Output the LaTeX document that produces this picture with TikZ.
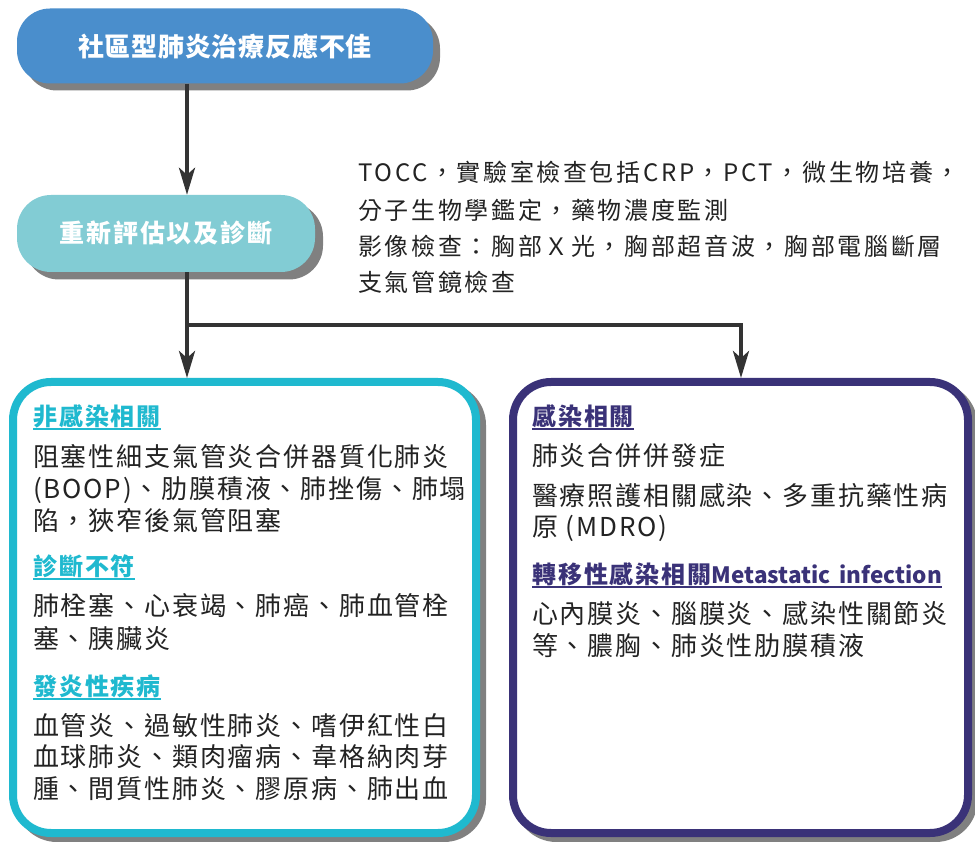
\documentclass[tikz,border=0pt]{standalone}
\usepackage{fontspec}
\setmainfont{Noto Sans CJK TC}
\newfontfamily\bodyf{Noto Sans CJK TC}[LetterSpace=7]
\newfontfamily\headf{Noto Sans CJK TC}[LetterSpace=8]
\newfontfamily\notef{Noto Sans CJK TC}[LetterSpace=11]
\newfontfamily\titlef{Noto Sans CJK TC}[LetterSpace=3]
\newfontfamily\latf{Noto Sans CJK TC}
\usetikzlibrary{arrows.meta,calc}
\definecolor{bluebox}{RGB}{74,142,204}
\definecolor{tealbox}{RGB}{130,204,212}
\definecolor{cyanb}{RGB}{31,185,207}
\definecolor{purpb}{RGB}{58,50,120}
\definecolor{shadowc}{RGB}{128,128,128}
\definecolor{arrc}{RGB}{51,51,51}
\definecolor{txtc}{RGB}{35,35,35}
\begin{document}
\begin{tikzpicture}[x=1pt,y=-1pt,
  shadowbox/.style={rectangle, fill=shadowc, inner sep=0pt, outer sep=0pt},
  titlebox/.style={rectangle, inner sep=0pt, text=white},
  bigbox/.style={rectangle, draw, line width=8pt, fill=white, inner sep=0pt, rounded corners=38pt},
  arr/.style={draw=arrc, line width=4pt, -{Stealth[length=27pt,width=16pt,inset=7pt]}},
  conn/.style={draw=arrc, line width=4pt},
  bodytext/.style={anchor=base west, inner sep=0pt, text=txtc, font=\bodyf\fontsize{26}{30}\selectfont},
  headtext/.style={anchor=base west, inner sep=0pt, font=\headf\bfseries\fontsize{24}{28}\selectfont},
  notetext/.style={anchor=base west, inner sep=0pt, text=txtc, font=\notef\fontsize{24}{28}\selectfont},
  uline/.style={line width=2pt}
]
\useasboundingbox (0,0) rectangle (975,842);
\fill[white] (0,0) rectangle (975,842);

% title boxes
\node[shadowbox, minimum width=416pt, minimum height=75pt, rounded corners=33pt] (s1) at (232,53) {};
\node[titlebox, fill=bluebox, minimum width=416pt, minimum height=75pt, rounded corners=33pt,
      font=\titlef\bfseries\fontsize{26}{30}\selectfont] (top) at (225,46) {社區型肺炎治療反應不佳};

\node[shadowbox, minimum width=298pt, minimum height=77pt, rounded corners=34pt] (s2) at (174,241) {};
\node[titlebox, fill=tealbox, minimum width=298pt, minimum height=77pt, rounded corners=34pt,
      font=\headf\bfseries\fontsize{25}{30}\selectfont] (sec) at (166,233.5) {重新評估以及診斷};

% big boxes
\node[shadowbox, minimum width=471pt, minimum height=459pt, rounded corners=42pt] (s3) at (250.5,612.5) {};
\node[bigbox, draw=cyanb, minimum width=463pt, minimum height=451pt] (lbox) at (244.5,607.5) {};
\node[shadowbox, minimum width=463pt, minimum height=459pt, rounded corners=42pt] (s4) at (746,612.5) {};
\node[bigbox, draw=purpb, minimum width=455pt, minimum height=451pt] (rbox) at (740.5,607.5) {};

% connectors
\coordinate (j) at (187,325);
\coordinate (jr) at (741,325);
\draw[arr] (top.south -| j) -- (sec.north -| j);
\draw[conn] (sec.south -| j) -- (j);
\draw[arr] (j) -- (lbox.north -| j);
\draw[arr] (j) -- (jr) -- (rbox.north -| jr);

% note text
\node[notetext] (t1) at (358,182) {TOCC，實驗室檢查包括CRP，PCT，微生物培養，};
\node[notetext] (t2) at (358,220) {分子生物學鑑定，藥物濃度監測};
\node[notetext] (t3) at (358,256) {影像檢查：胸部Ｘ光，胸部超音波，胸部電腦斷層};
\node[notetext] (t4) at (358,292) {支氣管鏡檢查};

% left box text
\node[headtext, text=cyanb] (lh1) at (33,425) {非感染相關};
\draw[uline, cyanb] ($(lh1.base west)+(0,4)$) -- ($(lh1.base east)+(0,4)$);
\node[bodytext] (lb1) at (33,466) {阻塞性細支氣管炎合併器質化肺炎};
\node[bodytext] (lb2) at (33,498) {(BOOP)、肋膜積液、肺挫傷、肺塌};
\node[bodytext] (lb3) at (33,530) {陷，狹窄後氣管阻塞};
\node[headtext, text=cyanb] (lh2) at (33,575) {診斷不符};
\draw[uline, cyanb] ($(lh2.base west)+(0,4)$) -- ($(lh2.base east)+(0,4)$);
\node[bodytext] (lb4) at (33,615) {肺栓塞、心衰竭、肺癌、肺血管栓};
\node[bodytext] (lb5) at (33,648) {塞、胰臟炎};
\node[headtext, text=cyanb] (lh3) at (33,695) {發炎性疾病};
\draw[uline, cyanb] ($(lh3.base west)+(0,4)$) -- ($(lh3.base east)+(0,4)$);
\node[bodytext] (lb6) at (33,735) {血管炎、過敏性肺炎、嗜伊紅性白};
\node[bodytext] (lb7) at (33,766) {血球肺炎、類肉瘤病、韋格納肉芽};
\node[bodytext] (lb8) at (33,798) {腫、間質性肺炎、膠原病、肺出血};

% right box text
\node[headtext, text=purpb] (rh1) at (532,425) {感染相關};
\draw[uline, purpb] ($(rh1.base west)+(0,4)$) -- ($(rh1.base east)+(0,4)$);
\node[bodytext] (rb1) at (532,465) {肺炎合併併發症};
\node[bodytext] (rb2) at (532,505) {醫療照護相關感染、多重抗藥性病};
\node[bodytext] (rb3) at (532,536) {原 (MDRO)};
\node[headtext, text=purpb] (rh2) at (532,583) {轉移性感染相關{\latf\bfseries\fontsize{22.5}{26}\selectfont Metastatic\hspace{9pt}infection}\hspace{9pt}};
\draw[uline, purpb] ($(rh2.base west)+(0,4)$) -- ($(rh2.base east)+(0,4)$);
\node[bodytext] (rb4) at (532,623) {心內膜炎、腦膜炎、感染性關節炎};
\node[bodytext] (rb5) at (532,655) {等、膿胸、肺炎性肋膜積液};
\end{tikzpicture}
\end{document}
